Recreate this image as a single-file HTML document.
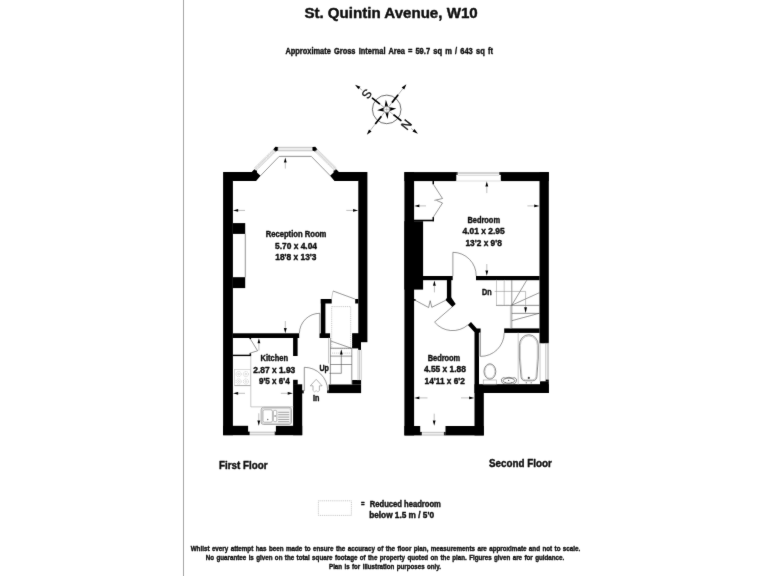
<!DOCTYPE html>
<html lang="en">
<head>
<meta charset="utf-8">
<title>St. Quintin Avenue, W10 - Floor Plan</title>
<style>
  html, body { margin: 0; padding: 0; background: #ffffff; }
  body { width: 768px; height: 576px; overflow: hidden; }
  svg { display: block; will-change: transform; filter: grayscale(1); }
  text { font-family: "Liberation Sans", sans-serif; font-weight: bold; fill: #0a0a0a; stroke: #0a0a0a; stroke-width: 0.36; stroke-linejoin: round; }
  .cl { font-weight: normal; stroke-width: 0.22; }
  .w { fill: #000; }
  .l { stroke: #404040; stroke-width: 0.55; fill: none; }
  .lg { stroke: #9c9c9c; stroke-width: 0.55; fill: none; }
  .lk { stroke: #222; stroke-width: 0.7; fill: none; }
  .dash { stroke: #a4a4a4; stroke-width: 0.6; fill: none; stroke-dasharray: 1.1 0.8; }
  .ah { fill: #000; }
  .fx { stroke: #3c3c3c; stroke-width: 0.6; fill: none; }
  .as { stroke: #8c8c8c; stroke-width: 0.55; fill: none; }
</style>
</head>
<body>
<svg width="768" height="576" viewBox="0 0 768 576">
<defs><filter id="soft" x="0" y="0" width="768" height="576" filterUnits="userSpaceOnUse"><feConvolveMatrix order="3" kernelMatrix="0.01 0.06 0.01 0.06 0.72 0.06 0.01 0.06 0.01" divisor="1" edgeMode="duplicate" preserveAlpha="false"/></filter></defs>
<rect x="0" y="0" width="768" height="576" fill="#ffffff"/>
<g id="page" filter="url(#soft)">
<!-- left page rule -->
<rect x="183" y="-2" width="1" height="580" fill="#a6a6a6"/>

<!-- ===== HEADINGS ===== -->
<g id="headings">
<text x="304.4" y="17.8" font-size="14" stroke-width="0.5" textLength="173.3" lengthAdjust="spacingAndGlyphs">St. Quintin Avenue, W10</text>
<text x="285.4" y="54.3" font-size="8.3" textLength="119.6" word-spacing="1.3" lengthAdjust="spacingAndGlyphs">Approximate Gross Internal Area</text>
<text x="407.9" y="54.3" font-size="8.3" textLength="85" word-spacing="1.2" lengthAdjust="spacingAndGlyphs">= 59.7 sq m / 643 sq ft</text>
</g>

<!-- ===== COMPASS ===== -->
<g id="compass" transform="translate(386.7,109.4)">
<circle r="14.3" fill="none" stroke="#333" stroke-width="0.7"/>
<g transform="rotate(38)">
<line x1="-38" y1="0" x2="-31" y2="0" stroke="#707070" stroke-width="0.5"/>
<line x1="-19" y1="0" x2="19" y2="0" stroke="#707070" stroke-width="0.5"/>
<line x1="31" y1="0" x2="38" y2="0" stroke="#707070" stroke-width="0.5"/>
<line x1="0" y1="-30" x2="0" y2="30" stroke="#707070" stroke-width="0.5"/>
<line x1="-18.6" y1="0" x2="-8.6" y2="0" stroke="#000" stroke-width="1.7"/>
<line x1="8.6" y1="0" x2="18.6" y2="0" stroke="#000" stroke-width="1.7"/>
<line x1="0" y1="-18.6" x2="0" y2="-8.6" stroke="#000" stroke-width="1.7"/>
<line x1="0" y1="8.6" x2="0" y2="18.6" stroke="#000" stroke-width="1.7"/>
<polygon class="ah" points="-40.2,0 -34.6,-1.6 -34.6,1.6"/>
<polygon class="ah" points="39.6,0 34,-1.6 34,1.6"/>
<polygon class="ah" points="0,-32 1.6,-26.4 -1.6,-26.4"/>
<polygon class="ah" points="0,32.3 1.6,26.7 -1.6,26.7"/>
<text class="cl" x="-25" y="0" font-size="12.5" text-anchor="middle" transform="rotate(90 -25 0)" dy="4.4">S</text>
<text class="cl" x="25" y="0" font-size="12.5" text-anchor="middle" transform="rotate(90 25 0)" dy="4.4">N</text>
</g>
<g transform="rotate(-5)">
<polygon class="ah" points="0,-9.6 1.9,-2.2 9.6,0 1.9,2.2 0,9.6 -1.9,2.2 -9.6,0 -1.9,-2.2"/>
</g>
<circle r="3" fill="#fff" stroke="#888" stroke-width="0.6"/>
<line x1="-2.2" y1="0" x2="2.2" y2="0" stroke="#999" stroke-width="0.5"/>
<line x1="0" y1="-2.2" x2="0" y2="2.2" stroke="#999" stroke-width="0.5"/>
</g>

<!-- ===== FIRST FLOOR ===== -->
<g id="first-floor">
<!-- outer walls -->
<rect class="w" x="223.1" y="172.1" width="9.8" height="263.1"/>
<polygon class="w" points="223.1,172.1 251.7,172.1 254.6,169 257,170.6 257,172.4 260.5,175.7 256.1,180.9 232.9,180.9"/>
<polygon class="w" points="367.4,172.1 338.9,172.1 336,169 333.6,170.6 333.6,172.4 330.1,175.7 334.5,180.9 358.3,180.9"/>
<rect class="w" x="358.3" y="172.1" width="9.1" height="170.1"/>
<rect class="w" x="352.1" y="333.2" width="7" height="15.2"/>
<rect class="w" x="358.2" y="342" width="2.8" height="8"/>
<rect class="w" x="355.2" y="299" width="3.2" height="4.5"/>
<!-- chimney breast -->
<rect class="w" x="232.8" y="223.1" width="12.4" height="10.8"/>
<rect class="w" x="232.8" y="277.2" width="12.4" height="10.9"/>
<line class="l" x1="245.3" y1="233.9" x2="245.3" y2="277.2"/>
<!-- partition reception / kitchen -->
<rect class="w" x="232.8" y="333.3" width="66.4" height="4.7"/>
<rect class="w" x="293.1" y="338" width="4.5" height="18"/>
<rect class="w" x="293.1" y="379.8" width="4.6" height="5"/>
<rect class="w" x="293.1" y="384.3" width="9.1" height="50.9"/>
<rect class="w" x="302.1" y="390.3" width="1.6" height="3.1"/>
<!-- bottom wall + window -->
<rect class="w" x="223.1" y="425.8" width="25" height="9.4"/>
<rect class="w" x="275.9" y="425.8" width="26.3" height="9.4"/>
<rect class="w" x="248" y="431.6" width="1.9" height="3.6"/>
<rect class="w" x="274.4" y="431.6" width="1.6" height="3.6"/>
<rect x="249.9" y="431.8" width="24.5" height="3.2" fill="#eeeeee"/>
<line class="lg" x1="249.9" y1="432.2" x2="274.4" y2="432.2"/>
<line class="lg" x1="249.9" y1="434.9" x2="274.4" y2="434.9"/>
<!-- cupboard in kitchen -->
<rect class="w" x="232.8" y="354.7" width="18.3" height="1.4"/>
<rect class="w" x="249.6" y="353.2" width="1.5" height="2.9"/>
<rect class="w" x="249.5" y="338" width="1.6" height="1.1"/>
<polyline class="l" points="250.3,338.9 257.6,350.8 249.9,353.2"/>
<!-- worktop edge -->
<polyline class="lg" points="250.8,356 250.8,406.9 292.9,406.9"/>
<!-- hob -->
<rect x="234.5" y="369.4" width="16.1" height="16.2" fill="none" stroke="#c2c2c2" stroke-width="0.6"/>
<line x1="234.5" y1="385.6" x2="250.6" y2="385.6" stroke="#9a9a9a" stroke-width="0.7"/>
<g fill="none" stroke="#b0b0b0" stroke-width="0.5" stroke-dasharray="1.4 0.7">
<circle cx="238.6" cy="374.1" r="2.6"/><circle cx="245.9" cy="374.1" r="2.6"/>
<circle cx="238.6" cy="381.5" r="2.6"/><circle cx="245.9" cy="381.5" r="2.6"/>
</g>
<g fill="none" stroke="#bdbdbd" stroke-width="0.5">
<circle cx="238.6" cy="374.1" r="0.9"/><circle cx="245.9" cy="374.1" r="0.9"/>
<circle cx="238.6" cy="381.5" r="0.9"/><circle cx="245.9" cy="381.5" r="0.9"/>
</g>
<!-- sink -->
<rect x="261.1" y="407.3" width="30.4" height="17.2" rx="2.5" fill="#f4f4f4" stroke="#8e8e8e" stroke-width="0.7"/>
<rect x="262.1" y="408.4" width="28.4" height="15" rx="1.8" fill="none" stroke="#b0b0b0" stroke-width="0.5"/>
<rect x="263" y="409.8" width="9.4" height="12.4" rx="1.5" fill="#fff" stroke="#8a8a8a" stroke-width="0.6"/>
<rect x="273.4" y="410.4" width="3.4" height="11.2" rx="1.2" fill="#fff" stroke="#8a8a8a" stroke-width="0.6"/>
<circle cx="267.7" cy="419.5" r="0.7" fill="#555"/>
<line class="lk" x1="274.3" y1="416" x2="276" y2="416"/>
<g stroke="#8f8f8f" stroke-width="0.8">
<line x1="278.2" y1="412.3" x2="289.2" y2="412.3"/><line x1="278.2" y1="414.7" x2="289.2" y2="414.7"/>
<line x1="278.2" y1="417.1" x2="289.2" y2="417.1"/><line x1="278.2" y1="419.5" x2="289.2" y2="419.5"/>
<line x1="278.2" y1="421.7" x2="289.2" y2="421.7"/>
</g>
<!-- bay window -->
<rect x="278" y="147.2" width="34.4" height="3.6" fill="#ececec"/>
<line class="lg" x1="278" y1="147.3" x2="312.4" y2="147.3"/>
<line class="lg" x1="278" y1="150.8" x2="312.4" y2="150.8"/>
<polygon points="274.6,148.2 277,150.4 256.4,170.4 254,168.2" fill="#f4f4f4"/>
<polygon points="316.1,148.2 313.7,150.4 334.3,170.4 336.7,168.2" fill="#f4f4f4"/>
<g class="lg" stroke-width="0.4" stroke="#b4b4b4" stroke-dasharray="0.8 0.5">
<line x1="274.6" y1="148.2" x2="254" y2="168.2"/><line x1="275.4" y1="148.9" x2="254.8" y2="168.9"/>
<line x1="276.2" y1="149.7" x2="255.6" y2="169.7"/><line x1="277" y1="150.4" x2="256.4" y2="170.4"/>
<line x1="316.1" y1="148.2" x2="336.7" y2="168.2"/><line x1="315.3" y1="148.9" x2="335.9" y2="168.9"/>
<line x1="314.5" y1="149.7" x2="335.1" y2="169.7"/><line x1="313.7" y1="150.4" x2="334.3" y2="170.4"/>
</g>
<polygon class="w" points="273.3,149.4 275.4,146.8 278.1,147 278.1,150.6 275.6,151.4"/>
<polygon class="w" points="317.4,149.4 315.3,146.8 312.3,147 312.3,150.6 315.1,151.4"/>
<polyline class="l" points="260.3,175.9 279.2,156.4 311.3,156.4 330.4,175.9"/>
<!-- stair cupboard walls -->
<rect class="w" x="320.8" y="299" width="10.9" height="4.5"/>
<rect class="w" x="320.8" y="299" width="4.6" height="39"/>
<rect class="w" x="319.5" y="333.3" width="10.6" height="4.7"/>
<line class="l" x1="354.9" y1="299" x2="333" y2="291"/>
<line class="lg" x1="333" y1="291" x2="331.5" y2="299"/>
<rect class="dash" x="331.7" y="306.6" width="19" height="42"/>
<!-- reception door -->
<path class="l" d="M319.8,333.3 L319.8,313.3 A20.3,20.3 0 0 0 299.4,333.3"/>
<!-- stairs -->
<line class="lg" x1="328.5" y1="338" x2="328.5" y2="363.4"/>
<line class="l" x1="330.4" y1="338" x2="330.4" y2="384"/>
<line class="l" x1="351.8" y1="348.4" x2="351.8" y2="384"/>
<line class="l" x1="331" y1="341.1" x2="351.8" y2="348.4"/>
<line class="l" x1="330.4" y1="348.2" x2="351.8" y2="348.2"/>
<line class="l" x1="330.4" y1="356.1" x2="351.8" y2="356.1"/>
<line class="l" x1="330.4" y1="364.5" x2="351.8" y2="364.5"/>
<line class="l" x1="329.4" y1="373.3" x2="341.4" y2="373.3"/>
<line class="l" x1="341.3" y1="353" x2="341.3" y2="373.3"/>
<line class="dash" x1="332" y1="353.1" x2="351.5" y2="353.1"/>
<polygon class="ah" points="341.3,349.3 342.7,354.4 339.9,354.4"/>
<!-- side window -->
<line class="lg" x1="358" y1="349.8" x2="358" y2="380.1" stroke="#c4c4c4"/>
<line class="lg" x1="359.5" y1="349.8" x2="359.5" y2="380.1" stroke="#808080" stroke-width="0.7"/>
<line class="lg" x1="361.2" y1="349.8" x2="361.2" y2="380.1" stroke="#c4c4c4"/>
<!-- entrance wall -->
<rect class="w" x="328.7" y="384.5" width="32.4" height="8.6"/>
<rect class="w" x="327.2" y="390.3" width="1.6" height="2.8"/>
<rect class="w" x="352.2" y="380" width="8.9" height="4.6"/>
<!-- entrance door -->
<path class="l" d="M304.3,391 L304.3,367.3 A23.4,23.4 0 0 1 327.7,390.4"/>
<!-- In arrow -->
<polyline points="313,390.2 313,385.8 310.3,385.8 316.2,379.3 322.1,385.8 319.4,385.8 319.4,390.2" fill="none" stroke="#8a8a8a" stroke-width="0.65"/>
<polyline points="312.6,390.2 314.6,391.9 316.2,390.6 317.8,391.9 319.8,390.2" fill="none" stroke="#9a9a9a" stroke-width="0.55"/>
<!-- dimension arrows -->
<line class="as" x1="285.3" y1="160" x2="285.3" y2="168.6"/><polygon class="ah" points="285.3,157.4 286.7,162.4 283.9,162.4"/>
<line class="as" x1="236" y1="210.4" x2="245" y2="210.4"/><polygon class="ah" points="233,210.4 238.2,209 238.2,211.8"/>
<line class="as" x1="346.3" y1="210.4" x2="355.3" y2="210.4"/><polygon class="ah" points="358.2,210.4 353,209 353,211.8"/>
<line class="as" x1="285.3" y1="321" x2="285.3" y2="330"/><polygon class="ah" points="285.3,333.2 286.7,328 283.9,328"/>
<line class="as" x1="258.9" y1="342" x2="258.9" y2="350.6"/><polygon class="ah" points="258.9,338.2 260.3,343.3 257.5,343.3"/>
<line class="as" x1="236" y1="393.3" x2="245" y2="393.3"/><polygon class="ah" points="233,393.3 238.2,391.9 238.2,394.7"/>
<line class="as" x1="280.8" y1="393.3" x2="290" y2="393.3"/><polygon class="ah" points="292.9,393.3 287.7,391.9 287.7,394.7"/>
<line class="as" x1="258.8" y1="413.3" x2="258.8" y2="422"/><polygon class="ah" points="258.8,425.7 260.2,420.5 257.4,420.5"/>
<!-- labels -->
<text x="265.7" y="236.8" font-size="8.3" textLength="60.7" lengthAdjust="spacingAndGlyphs">Reception Room</text>
<text x="275" y="248.6" font-size="8.3" textLength="42" lengthAdjust="spacingAndGlyphs">5.70 x 4.04</text>
<text x="275.3" y="260" font-size="8.3" textLength="41.2" lengthAdjust="spacingAndGlyphs">18'8 x 13'3</text>
<text x="260.6" y="360.7" font-size="8.3" textLength="27.4" lengthAdjust="spacingAndGlyphs">Kitchen</text>
<text x="253.3" y="372.5" font-size="8.3" textLength="42" lengthAdjust="spacingAndGlyphs">2.87 x 1.93</text>
<text x="258.9" y="383.9" font-size="8.3" textLength="30.9" lengthAdjust="spacingAndGlyphs">9'5 x 6'4</text>
<text x="319.5" y="371" font-size="8.3" textLength="9.4" lengthAdjust="spacingAndGlyphs">Up</text>
<text x="312.9" y="400.5" font-size="8.3" textLength="6.4" lengthAdjust="spacingAndGlyphs">In</text>
</g>

<!-- ===== SECOND FLOOR ===== -->
<g id="second-floor">
<!-- outer walls -->
<rect class="w" x="404.4" y="172.1" width="51.9" height="9"/>
<rect class="w" x="456.2" y="172.1" width="1.6" height="2.8"/>
<rect class="w" x="500.8" y="172.1" width="48" height="9"/>
<rect class="w" x="499.1" y="172.1" width="1.8" height="2.8"/>
<rect class="w" x="404.4" y="172.1" width="9.7" height="263.3"/>
<rect class="w" x="404.4" y="221.2" width="18.7" height="68.4"/>
<rect class="w" x="539.5" y="172.1" width="9.3" height="171.2"/>
<rect class="w" x="540" y="381.3" width="8.8" height="11.7"/>
<rect class="w" x="545.6" y="379.5" width="3.2" height="2"/>
<!-- top window -->
<rect x="457.8" y="172.4" width="41.3" height="3.2" fill="#f6f6f6"/>
<line x1="457.8" y1="173" x2="499.1" y2="173" stroke="#8c8c8c" stroke-width="0.7"/>
<line x1="457.8" y1="175.4" x2="499.1" y2="175.4" stroke="#c6c6c6" stroke-width="0.6"/>
<line x1="456.3" y1="181" x2="500.8" y2="181" stroke="#c6c6c6" stroke-width="0.6"/>
<!-- partition bedroom1 / landing -->
<rect class="w" x="423" y="276" width="29.7" height="4.2"/>
<rect class="w" x="476" y="276" width="63.6" height="4.2"/>
<rect class="w" x="446.9" y="280" width="4.4" height="19.5"/>
<polygon class="w" points="446.9,298 451.3,297.6 455.7,304 452.4,306.9 445.5,299.9"/>
<!-- lower diagonal + bathroom partition -->
<polygon class="w" points="467.9,324.9 471,322.1 476.8,328.5 480.6,328.5 480.6,332.8 479,332.8 479,393 474.5,393 474.5,332.2"/>
<rect class="w" x="504.2" y="328.4" width="35.4" height="4.5"/>
<rect class="w" x="474.5" y="384.2" width="74.3" height="8.8"/>
<rect class="w" x="474.5" y="393" width="9.3" height="42.4"/>
<!-- bottom wall + window -->
<rect class="w" x="404.4" y="426" width="15.8" height="9.4"/>
<rect class="w" x="445.5" y="426" width="38.3" height="9.4"/>
<rect class="w" x="420.1" y="431.9" width="1.9" height="3.5"/>
<rect class="w" x="443.6" y="431.9" width="2" height="3.5"/>
<rect x="422" y="432" width="21.6" height="3.2" fill="#eeeeee"/>
<line class="lg" x1="422" y1="432.3" x2="443.6" y2="432.3"/>
<line class="lg" x1="422" y1="435.1" x2="443.6" y2="435.1"/>
<!-- wardrobe bedroom 1 -->
<rect class="w" x="432.5" y="181" width="1.5" height="3.3"/>
<rect class="w" x="432.5" y="217.1" width="1.5" height="4.1"/>
<rect class="w" x="414" y="219.7" width="20" height="1.6"/>
<polyline class="l" points="433.3,184.3 442.5,198.5 434.4,200.4"/>
<polyline class="l" points="433.3,217.1 442.5,203 436.5,200.4"/>
<!-- bedroom 1 door -->
<path class="l" d="M452.9,276 L452.9,252.3 A23.4,23.4 0 0 1 476.2,276"/>
<!-- wardrobe bedroom 2 -->
<polyline class="l" points="414.1,299.7 428.6,307.5 430.2,300.7"/>
<polyline class="l" points="445.8,300.2 431.8,307.3 430.2,300.7"/>
<rect class="w" x="414" y="299.2" width="1.6" height="1.4"/>
<!-- bedroom 2 door -->
<path class="l" d="M452.2,306.9 L434.6,322.1 A23.3,23.3 0 0 0 467.9,324.9"/>
<!-- bathroom door -->
<path class="l" d="M480.4,332.8 L480.4,356.4 A23.6,23.6 0 0 0 504.2,332.9"/>
<line class="lg" x1="479.6" y1="332.8" x2="479.6" y2="356.4"/>
<!-- stairs -->
<line class="lg" x1="496.5" y1="280.1" x2="496.5" y2="305.4"/>
<line class="lg" x1="504.2" y1="280.1" x2="504.2" y2="305.4" stroke="#c8c8c8"/>
<line class="l" x1="511.8" y1="280.1" x2="511.8" y2="328.4"/>
<line class="lg" x1="510.4" y1="305.4" x2="510.4" y2="328.4"/>
<line class="l" x1="496.1" y1="305.4" x2="539.6" y2="305.4"/>
<line class="l" x1="511.8" y1="305.2" x2="526.7" y2="280.3"/>
<line class="l" x1="511.8" y1="305.2" x2="539.6" y2="292.6"/>
<line class="l" x1="511.8" y1="313.4" x2="539.6" y2="313.4"/>
<line class="l" x1="511.8" y1="320.7" x2="539.6" y2="313.2"/>
<polyline class="as" points="494.6,291.4 525.6,291.4 525.6,308"/>
<polygon class="ah" points="525.6,313.2 527,307.2 524.2,307.2"/>
<!-- bathroom window -->
<line class="lg" x1="540" y1="343.2" x2="540" y2="381.3"/>
<line class="lg" x1="545.7" y1="343.2" x2="545.7" y2="379.5"/>
<line class="lg" x1="547.3" y1="343.2" x2="547.3" y2="379.5"/>
<line class="lg" x1="548.4" y1="343.2" x2="548.4" y2="379.5"/>
<!-- bath -->
<line class="lg" x1="518.2" y1="332.9" x2="518.2" y2="384.2"/>
<path class="fx" d="M519.4,345.2 A9.45,10.5 0 0 1 538.3,345.2 L538.3,358 L536.9,376.5 A4.2,4.2 0 0 1 532.7,380.8 L525.2,380.8 A4.2,4.2 0 0 1 521,376.5 L519.4,358 Z"/>
<path class="lg" d="M520.4,345.4 A8.45,9.5 0 0 1 537.3,345.4 L537.3,358 L536,376.2 A3.4,3.4 0 0 1 532.6,379.8 L525.3,379.8 A3.4,3.4 0 0 1 521.9,376.2 L520.4,358 Z" stroke="#c0c0c0"/>
<circle cx="528.8" cy="377.9" r="1.1" fill="#444"/>
<line class="lk" x1="526.3" y1="382.2" x2="526.3" y2="383.4"/>
<line class="lk" x1="531.2" y1="382.2" x2="531.2" y2="383.4"/>
<!-- toilet -->
<ellipse class="fx" cx="489.9" cy="371.5" rx="5.9" ry="7.7"/>
<ellipse class="lg" cx="489.9" cy="371.5" rx="5" ry="6.8" stroke="#c4c4c4"/>
<rect class="lg" x="483.2" y="380" width="13.5" height="4.2"/>
<!-- basin -->
<path class="fx" d="M501.4,379.2 Q502.6,377 505.5,378 Q508.9,376.6 512.4,378 Q515.3,377 516.5,379.2 Q516.6,383.9 512.5,384.1 L505.4,384.1 Q501.3,383.9 501.4,379.2 Z"/>
<ellipse class="fx" cx="508.9" cy="380.7" rx="5.8" ry="2.5"/>
<circle cx="508.7" cy="380.3" r="0.6" fill="#333"/>
<circle cx="505.5" cy="382.6" r="0.45" fill="#333"/>
<circle cx="511.3" cy="382.6" r="0.45" fill="#333"/>
<!-- dimension arrows -->
<line class="as" x1="417" y1="205.9" x2="426" y2="205.9"/><polygon class="ah" points="414.2,205.9 419.4,204.5 419.4,207.3"/>
<line class="as" x1="527.4" y1="205.9" x2="536.5" y2="205.9"/><polygon class="ah" points="539.4,205.9 534.2,204.5 534.2,207.3"/>
<line class="as" x1="486.8" y1="184" x2="486.8" y2="193.1"/><polygon class="ah" points="486.8,181.3 488.2,186.5 485.4,186.5"/>
<line class="as" x1="486.8" y1="264" x2="486.8" y2="272.5"/><polygon class="ah" points="486.8,275.8 488.2,270.5 485.4,270.5"/>
<line class="as" x1="434.4" y1="283.5" x2="434.4" y2="292.4"/><polygon class="ah" points="434.4,280.5 435.8,285.7 433,285.7"/>
<line class="as" x1="417" y1="397.9" x2="427.5" y2="397.9"/><polygon class="ah" points="414.2,397.9 419.4,396.5 419.4,399.3"/>
<line class="as" x1="461" y1="397.9" x2="471.5" y2="397.9"/><polygon class="ah" points="474.3,397.9 469.1,396.5 469.1,399.3"/>
<line class="as" x1="434.2" y1="413.7" x2="434.2" y2="422.5"/><polygon class="ah" points="434.2,425.8 435.6,420.6 432.8,420.6"/>
<!-- labels -->
<text x="467.4" y="222.6" font-size="8.3" textLength="32.6" lengthAdjust="spacingAndGlyphs">Bedroom</text>
<text x="462.5" y="234.4" font-size="8.3" textLength="42.2" lengthAdjust="spacingAndGlyphs">4.01 x 2.95</text>
<text x="465.5" y="246" font-size="8.3" textLength="36.3" lengthAdjust="spacingAndGlyphs">13'2 x 9'8</text>
<text x="427.7" y="360.6" font-size="8.3" textLength="32.5" lengthAdjust="spacingAndGlyphs">Bedroom</text>
<text x="423.9" y="372.4" font-size="8.3" textLength="42" lengthAdjust="spacingAndGlyphs">4.55 x 1.88</text>
<text x="424.6" y="384.1" font-size="8.3" textLength="40.3" lengthAdjust="spacingAndGlyphs">14'11 x 6'2</text>
<text x="482.1" y="294.7" font-size="8.3" textLength="9.6" lengthAdjust="spacingAndGlyphs">Dn</text>
</g>

<!-- ===== FOOTER ===== -->
<g id="footer">
<text x="218.9" y="468.5" font-size="10.3" stroke-width="0.55" textLength="48.7" lengthAdjust="spacingAndGlyphs">First Floor</text>
<text x="488.9" y="466.6" font-size="10.3" stroke-width="0.55" textLength="62.9" lengthAdjust="spacingAndGlyphs">Second Floor</text>
<rect x="318.4" y="500.8" width="33" height="14.6" class="dash"/>
<text x="361" y="506.8" font-size="8.3" textLength="3.6" lengthAdjust="spacingAndGlyphs">=</text>
<text x="369.8" y="506.8" font-size="8.3" textLength="71.1" lengthAdjust="spacingAndGlyphs">Reduced headroom</text>
<text x="369.2" y="517.7" font-size="8.3" textLength="64.8" lengthAdjust="spacingAndGlyphs">below 1.5 m / 5'0</text>
<text x="190.7" y="551" font-size="7.5" stroke-width="0.3" textLength="389.6" word-spacing="0.8" lengthAdjust="spacingAndGlyphs">Whilst every attempt has been made to ensure the accuracy of the floor plan, measurements are approximate and not to scale.</text>
<text x="205.8" y="560.3" font-size="7.5" stroke-width="0.3" textLength="358.4" word-spacing="0.8" lengthAdjust="spacingAndGlyphs">No guarantee is given on the total square footage of the property quoted on the plan. Figures given are for guidance.</text>
<text x="329" y="569.4" font-size="7.5" stroke-width="0.3" textLength="112" word-spacing="0.8" lengthAdjust="spacingAndGlyphs">Plan is for illustration purposes only.</text>
</g>
</g>
</svg>
</body>
</html>
